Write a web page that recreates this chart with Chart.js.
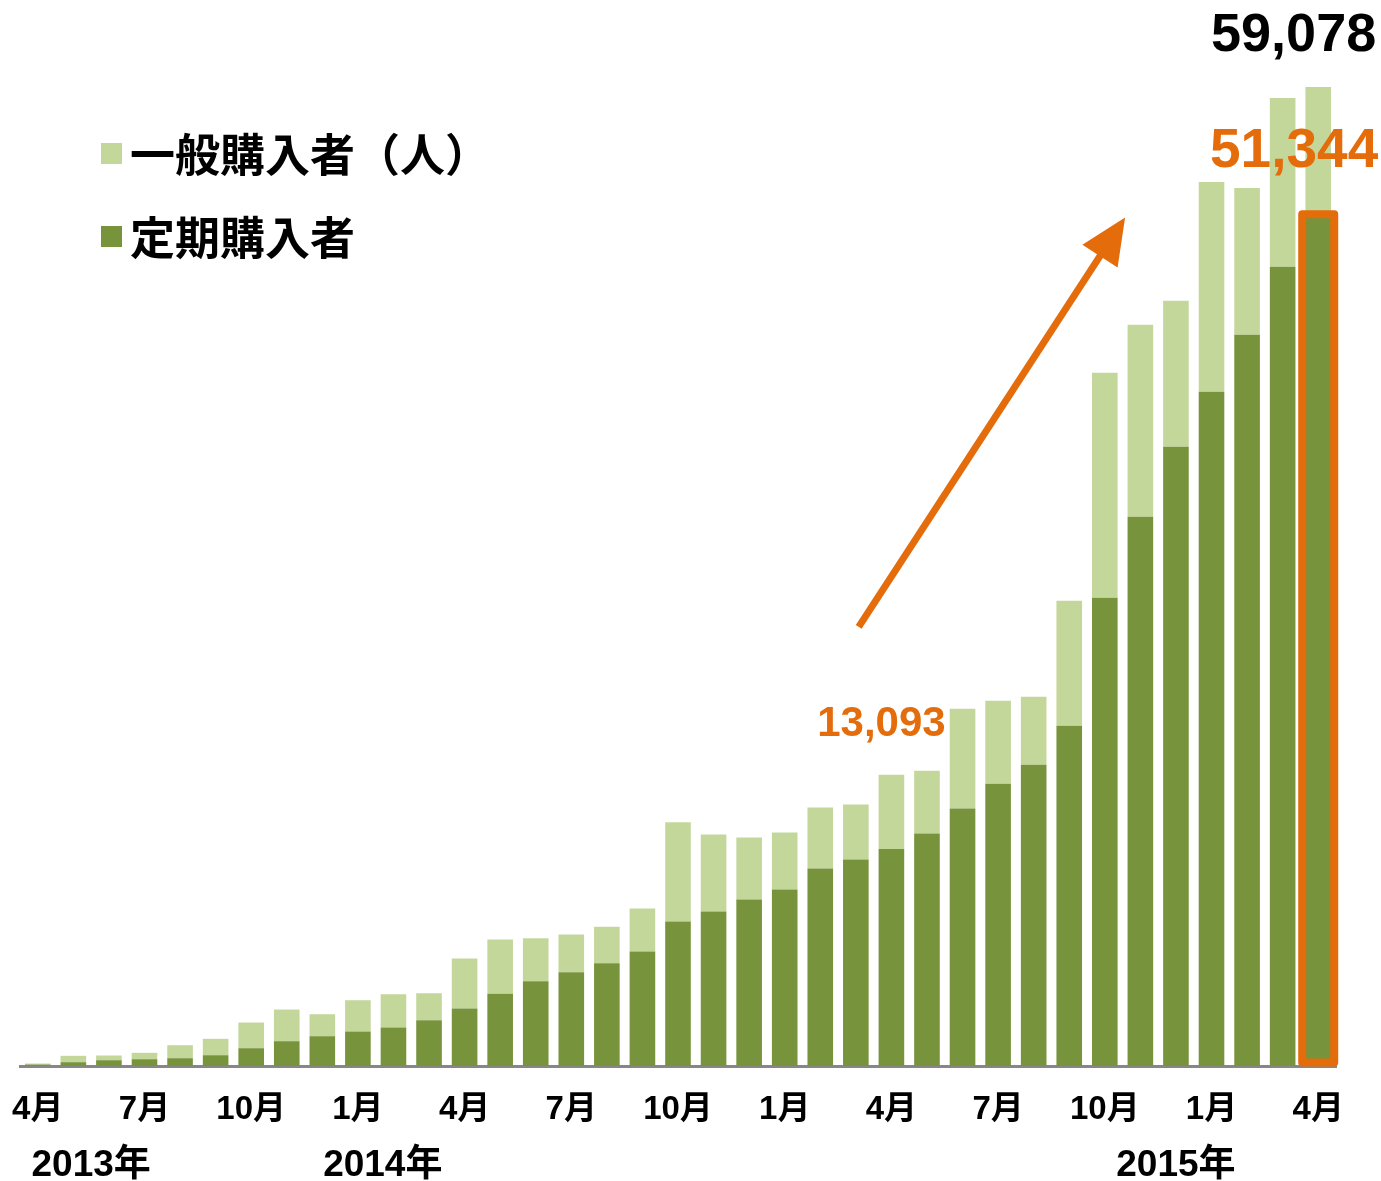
<!DOCTYPE html>
<html lang="ja">
<head>
<meta charset="UTF-8">
<title>定期購入者の推移</title>
<style>
  html, body { margin: 0; padding: 0; background: #fff; }
  #wrap { position: relative; width: 1381px; height: 1181px; }
</style>
</head>
<body>
<div id="wrap"><canvas id="chart"></canvas></div>
<script src="https://cdn.jsdelivr.net/npm/chart.js@4"></script>
<script>
// months from 2013/4 to the last bar, one bar per month
const monthLabels = [
  '4月', '5月', '6月', '7月', '8月', '9月', '10月', '11月', '12月', '1月', '2月', '3月',
  '4月', '5月', '6月', '7月', '8月', '9月', '10月', '11月', '12月', '1月', '2月', '3月',
  '4月', '5月', '6月', '7月', '8月', '9月', '10月', '11月', '12月', '1月', '2月', '3月',
  '4月'
];
const yearLabels = ['2013年', '2014年', '2015年'];
const yearPositions = [1.5, 9.7, 32];   // bar index under which each year is written

// 定期購入者 (dark) and 一般購入者 (light, stacked on top)
const regularBuyers = [
  90, 230, 350, 410, 470, 651, 1074, 1496, 1798, 2081, 2322, 2763,
  3468, 4355, 5115, 5658, 6201, 6907, 8716, 9319, 10043, 10646, 11913, 12456,
  13093, 14024, 15532, 17040, 18186, 20539, 28260, 33146, 37368, 40686, 44124, 48226,
  51344
];
const generalBuyers = [
  60, 385, 283, 386, 785, 990, 1550, 1912, 1327, 1888, 2009, 1628,
  3016, 3275, 2594, 2274, 2196, 2593, 5990, 4645, 3740, 3439, 3680, 3318,
  4490, 3801, 6032, 5007, 4102, 7540, 13572, 11581, 8807, 12667, 8867, 10194,
  7734
];
const highlightIndex = 24;   // bar whose 定期 value is called out

const DARK = '#77933C';
const LIGHT = '#C4D79B';
const ORANGE = '#E46C0A';
const LATIN = "'Liberation Sans', 'Noto Sans CJK JP', sans-serif";
const CJK = "'Noto Sans CJK JP', sans-serif";

const fmt = v => v.toLocaleString('en-US');

// legend in the upper left corner of the plot
const legendBox = {
  id: 'legendBox',
  afterDraw(chart) {
    const { ctx, chartArea } = chart;
    const items = chart.data.datasets.slice().reverse();
    ctx.save();
    ctx.font = 'bold 45px ' + CJK;
    ctx.textBaseline = 'middle';
    ctx.textAlign = 'left';
    items.forEach((ds, i) => {
      const top = chartArea.top + 143 + i * 83;
      ctx.fillStyle = ds.backgroundColor;
      ctx.fillRect(chartArea.left + 81, top, 21, 21);
      ctx.fillStyle = '#000';
      ctx.fillText(ds.label, chartArea.left + 110, top + 12);
    });
    ctx.restore();
  }
};

// year line under the month ticks
const yearRow = {
  id: 'yearRow',
  afterDraw(chart) {
    const { ctx, chartArea } = chart;
    const xs = chart.scales.x;
    ctx.save();
    ctx.font = 'bold 37px ' + LATIN;
    ctx.fillStyle = '#000';
    ctx.textAlign = 'center';
    ctx.textBaseline = 'middle';
    yearLabels.forEach((t, i) => {
      ctx.fillText(t, xs.getPixelForValue(yearPositions[i]), chartArea.bottom + 100);
    });
    ctx.restore();
  }
};

// callouts: last-bar box, arrow and numbers
const callouts = {
  id: 'callouts',
  afterDatasetsDraw(chart) {
    const { ctx } = chart;
    const xs = chart.scales.x, ys = chart.scales.y;
    const last = regularBuyers.length - 1;
    const dark = chart.getDatasetMeta(0).data[last];
    const light = chart.getDatasetMeta(1).data[last];
    const mid = chart.getDatasetMeta(0).data[highlightIndex];

    ctx.save();
    // box around the last 定期 bar
    ctx.strokeStyle = ORANGE;
    ctx.lineWidth = 8;
    ctx.lineJoin = 'round';
    const top = dark.y - 1;
    ctx.strokeRect(dark.x - 16, top, 32, dark.base - 3.5 - top);

    // arrow
    const x0 = xs.getPixelForValue(23.08), y0 = ys.getPixelForValue(26500);
    const x1 = xs.getPixelForValue(30.57), y1 = ys.getPixelForValue(51200);
    const ang = Math.atan2(y1 - y0, x1 - x0);
    const headLen = 46, headHalf = 21;
    const bx = x1 - headLen * Math.cos(ang), by = y1 - headLen * Math.sin(ang);
    ctx.lineWidth = 7;
    ctx.lineCap = 'butt';
    ctx.beginPath();
    ctx.moveTo(x0, y0);
    ctx.lineTo(bx + 2 * Math.cos(ang), by + 2 * Math.sin(ang));
    ctx.stroke();
    ctx.fillStyle = ORANGE;
    ctx.beginPath();
    ctx.moveTo(x1, y1);
    ctx.lineTo(bx + headHalf * Math.sin(ang), by - headHalf * Math.cos(ang));
    ctx.lineTo(bx - headHalf * Math.sin(ang), by + headHalf * Math.cos(ang));
    ctx.closePath();
    ctx.fill();

    // numbers
    ctx.textBaseline = 'middle';
    ctx.textAlign = 'right';
    ctx.fillStyle = '#000';
    ctx.font = 'bold 54px ' + LATIN;
    ctx.fillText(fmt(regularBuyers[last] + generalBuyers[last]), light.x + 58, light.y - 51);
    ctx.fillStyle = ORANGE;
    ctx.font = 'bold 55px ' + LATIN;
    ctx.fillText(fmt(regularBuyers[last]), dark.x + 60, dark.y - 63);
    ctx.textAlign = 'center';
    ctx.font = 'bold 42px ' + LATIN;
    ctx.fillText(fmt(regularBuyers[highlightIndex]), mid.x - 10, mid.y - 125);
    ctx.restore();
  }
};

new Chart(document.getElementById('chart'), {
  type: 'bar',
  data: {
    labels: monthLabels,
    datasets: [
      {
        label: '定期購入者',
        data: regularBuyers,
        backgroundColor: DARK,
        barPercentage: 0.72,
        categoryPercentage: 1
      },
      {
        label: '一般購入者（人）',
        data: generalBuyers,
        backgroundColor: LIGHT,
        barPercentage: 0.72,
        categoryPercentage: 1
      }
    ]
  },
  options: {
    responsive: true,
    maintainAspectRatio: false,
    animation: false,
    layout: { padding: { left: 20, right: 45, top: 0, bottom: 0 } },
    plugins: {
      legend: { display: false },
      tooltip: { enabled: false }
    },
    scales: {
      x: {
        stacked: true,
        grid: { display: false, drawTicks: false },
        border: { display: true, color: '#878787', width: 3 },
        ticks: {
          autoSkip: false,
          maxRotation: 0,
          minRotation: 0,
          padding: 24,
          color: '#000',
          font: { family: LATIN, size: 33, weight: 'bold' },
          callback: (v, i) => (i % 3 === 0 ? monthLabels[i] : '')
        },
        afterFit(scale) {
          scale.height = 115;
          scale.paddingLeft = 0;
          scale.paddingRight = 0;
        }
      },
      y: {
        stacked: true,
        display: false,
        min: 0,
        max: 64330
      }
    }
  },
  plugins: [legendBox, yearRow, callouts]
});
</script>
</body>
</html>
